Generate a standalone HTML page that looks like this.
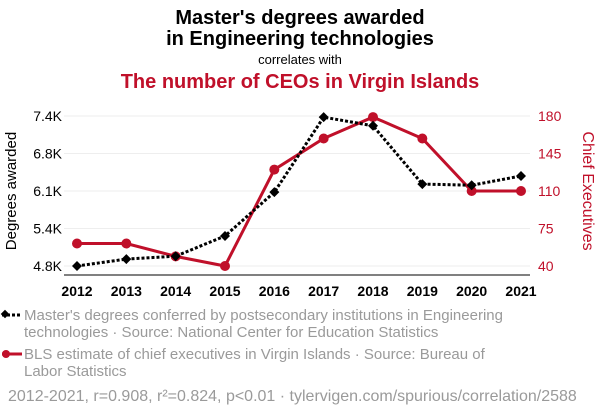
<!DOCTYPE html>
<html><head><meta charset="utf-8">
<style>
body{margin:0;background:#fff;width:600px;height:414px;overflow:hidden;font-family:"Liberation Sans",sans-serif;}
svg text{font-family:"Liberation Sans",sans-serif;}
</style></head>
<body>
<svg width="600" height="414">
<text x="300" y="24" text-anchor="middle" font-size="20" font-weight="bold" fill="#000">Master's degrees awarded</text>
<text x="300" y="45" text-anchor="middle" font-size="20" font-weight="bold" fill="#000">in Engineering technologies</text>
<text x="300" y="64" text-anchor="middle" font-size="13" fill="#000">correlates with</text>
<text x="300" y="88" text-anchor="middle" font-size="20" font-weight="bold" fill="#c0102a">The number of CEOs in Virgin Islands</text>
<g id="grid"></g>
<line x1="64" y1="275" x2="530" y2="275" stroke="#000" stroke-width="1"/>
<g id="marks"></g>
<text transform="translate(16,191) rotate(-90)" text-anchor="middle" font-size="15" fill="#000">Degrees awarded</text>
<text transform="translate(583,191) rotate(90)" text-anchor="middle" font-size="16" fill="#c0102a">Chief Executives</text>
<g>
<line x1="2" y1="315" x2="22" y2="315" stroke="#000" stroke-width="3" stroke-dasharray="3,2"/>
<rect x="2" y="311" width="6" height="6" fill="#000" transform="rotate(45 5 314)"/>
<text x="24" y="320" font-size="15" fill="#9a9a9a">Master's degrees conferred by postsecondary institutions in Engineering</text>
<text x="24" y="337" font-size="15" fill="#9a9a9a">technologies · Source: National Center for Education Statistics</text>
</g>
<g>
<line x1="2" y1="354" x2="22" y2="354" stroke="#c0102a" stroke-width="3"/>
<circle cx="6" cy="354" r="4" fill="#c0102a"/>
<text x="24" y="359" font-size="15" fill="#9a9a9a">BLS estimate of chief executives in Virgin Islands · Source: Bureau of</text>
<text x="24" y="376" font-size="15" fill="#9a9a9a">Labor Statistics</text>
</g>
<text x="8" y="401" font-size="16" fill="#9a9a9a">2012-2021, r=0.908, r²=0.824, p&lt;0.01 · tylervigen.com/spurious/correlation/2588</text>
</svg>
<script>
const years=[2012,2013,2014,2015,2016,2017,2018,2019,2020,2021];
const degrees=[4.80,4.92,4.97,5.32,6.08,7.38,7.23,6.22,6.20,6.36];
const ceos=[61,61,49,40,130,159,179,159,110,110];
const leftTicks=[4.8,5.45,6.1,6.75,7.4];
const leftTickLabels=["4.8K","5.4K","6.1K","6.8K","7.4K"];
const rightTicks=[40,75,110,145,180];
const NS="http://www.w3.org/2000/svg";
const xS=y=>77+(y-2012)*(521-77)/9;
const yL=v=>266-(v-4.8)*150/2.6;
const yR=v=>266-(v-40)*150/140;
const grid=document.getElementById('grid'),marks=document.getElementById('marks');
function mk(tag,attrs,parent){const e=document.createElementNS(NS,tag);for(const k in attrs)e.setAttribute(k,attrs[k]);parent.appendChild(e);return e;}
leftTicks.forEach((t,i)=>{
 const y=yL(t);
 const g=mk('line',{x1:64,x2:530,y1:y,y2:y,stroke:'#eee','stroke-width':1},grid);
 
 
 const tx=mk('text',{x:62,y:y+5,'text-anchor':'end','font-size':14,fill:'#000'},grid);tx.textContent=leftTickLabels[i];
 
 
});
rightTicks.forEach(t=>{
 const y=yR(t);
 const tx=mk('text',{x:538,y:y+5,'font-size':14,fill:'#c0102a'},grid);tx.textContent=t;
 
 
});
years.forEach(yr=>{
 const tx=mk('text',{x:xS(yr),y:296,'text-anchor':'middle','font-size':14,'font-weight':'bold',fill:'#000'},grid);tx.textContent=yr;
 
 
});
const rl=mk('polyline',{points:years.map((y,i)=>xS(y)+','+yR(ceos[i])).join(' '),fill:'none',stroke:'#c0102a','stroke-width':3},marks);


const bl=mk('polyline',{points:years.map((y,i)=>xS(y)+','+yL(degrees[i])).join(' '),fill:'none',stroke:'#000','stroke-width':3,'stroke-dasharray':'3,2'},marks);


years.forEach((y,i)=>{
 const c=mk('circle',{cx:xS(y),cy:yR(ceos[i]),r:5,fill:'#c0102a'},marks);
 
 
});
years.forEach((y,i)=>{
 const x=xS(y),yy=yL(degrees[i]);
 const d=mk('polygon',{points:`${x},${yy-5} ${x+5},${yy} ${x},${yy+5} ${x-5},${yy}`,fill:'#000'},marks);
 
 
});
</script>
</body></html>
